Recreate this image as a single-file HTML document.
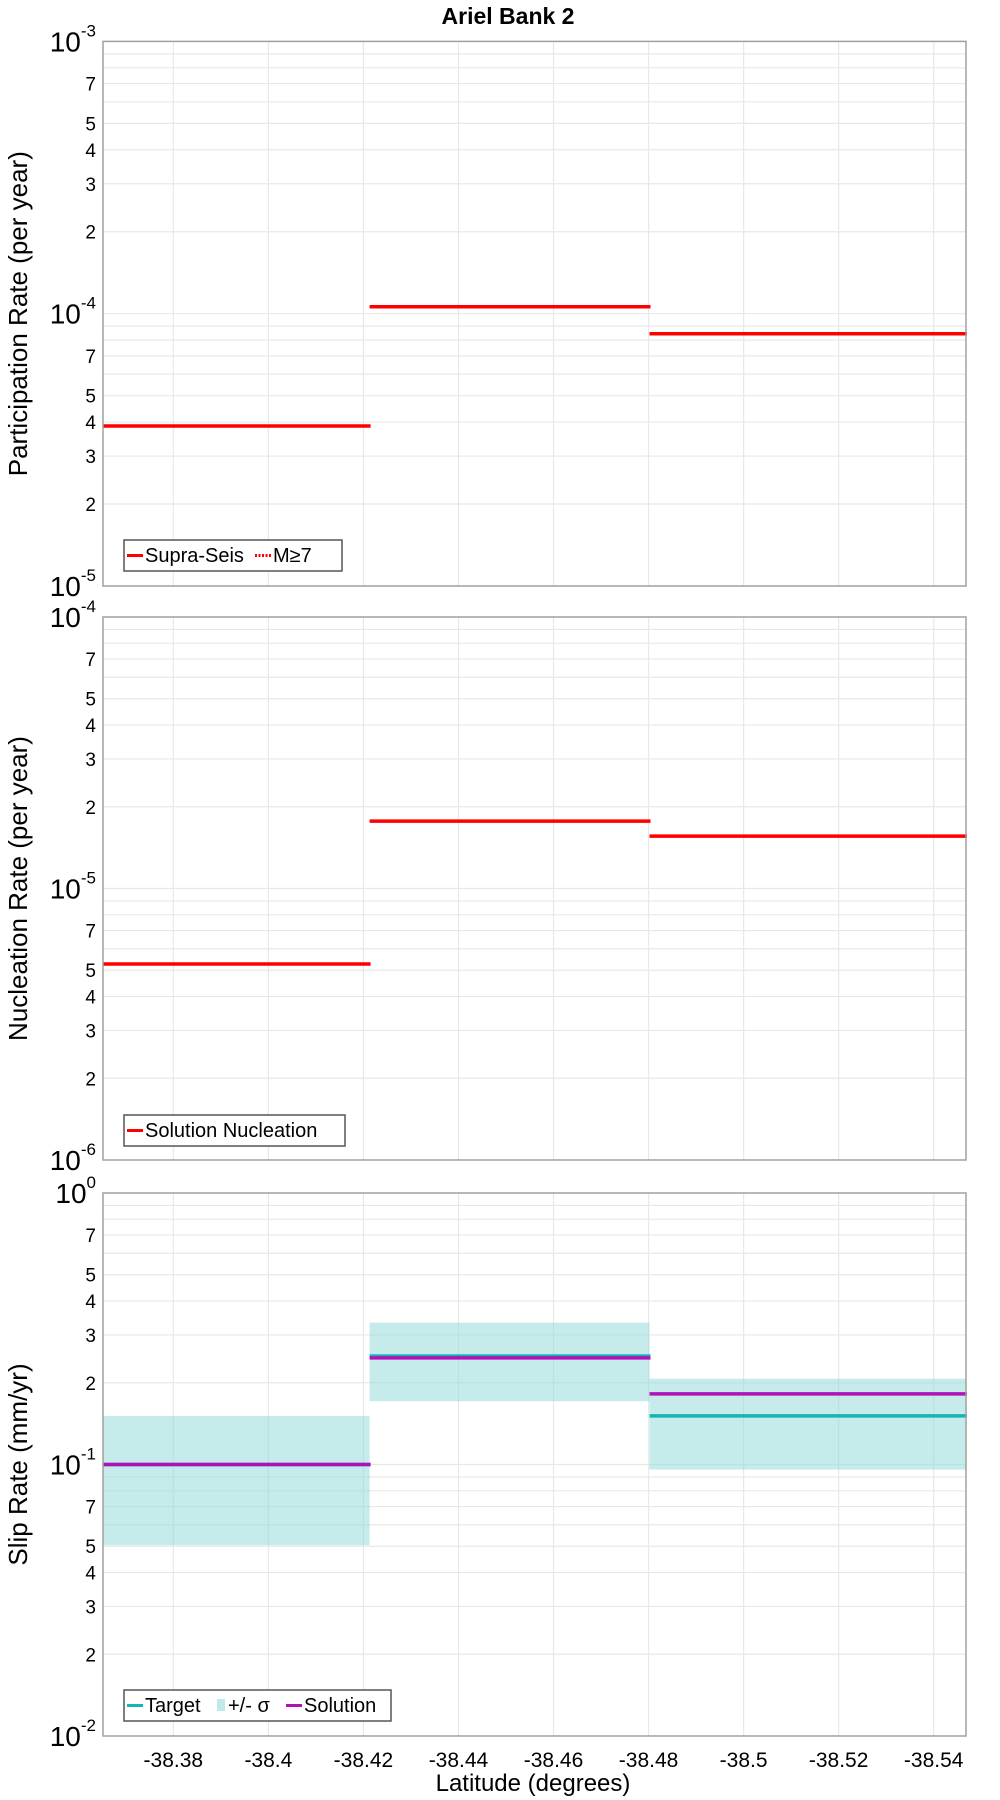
<!DOCTYPE html>
<html><head><meta charset="utf-8"><style>
html,body{margin:0;padding:0;background:#fff;}
svg{display:block;font-family:"Liberation Sans","DejaVu Sans",sans-serif;}
</style></head><body>
<svg id="chart" width="1000" height="1800" viewBox="0 0 1000 1800">
<text x="508" y="24" text-anchor="middle" font-size="23" font-weight="bold">Ariel Bank 2</text>
<g id="panels"></g>
<text x="533" y="1791" text-anchor="middle" font-size="24">Latitude (degrees)</text>
</svg>
<script>
const xTicks = [-38.38, -38.4, -38.42, -38.44, -38.46, -38.48, -38.5, -38.52, -38.54];
const xTickLabels = ["-38.38", "-38.4", "-38.42", "-38.44", "-38.46", "-38.48", "-38.5", "-38.52", "-38.54"];
const segStart = [-38.3652, -38.4213, -38.4802];
const segEnd = [-38.4213, -38.4802, -38.5468];
const participation = [3.87e-5, 1.06e-4, 8.44e-5];
const nucleation = [5.27e-6, 1.77e-5, 1.56e-5];
const slipTarget = [0.1, 0.251, 0.151];
const slipSolution = [0.1, 0.247, 0.182];
const slipLow = [0.0504, 0.171, 0.0958];
const slipHigh = [0.151, 0.333, 0.207];

const NS = "http://www.w3.org/2000/svg";
const L = 103, R = 966;
const xMin = -38.3652, xMax = -38.5468;
function xs(v){ return L + (v - xMin) / (xMax - xMin) * (R - L); }
function mk(tag, attrs, parent){ const e = document.createElementNS(NS, tag); for (const k in attrs) e.setAttribute(k, attrs[k]); parent.appendChild(e); return e; }
const root = document.getElementById("panels");

function panel(top, bottom, expTop, expBot, title, name){
  const g = mk("g", {}, root);
  
  
  const ys = v => top + (expTop - Math.log10(v)) / (expTop - expBot) * (bottom - top);
  for (let e = expBot; e < expTop; e++) {
    for (let m = 1; m <= 9; m++) {
      const v = m * Math.pow(10, e);
      if (e === expBot && m === 1) continue;
      const y = ys(v);
      const ln = mk("line", {x1:L, x2:R, y1:y, y2:y, stroke:"#e8e8e8", "stroke-width":1.2}, g);
      
      
    }
  }
  xTicks.forEach(t => {
    const x = xs(t);
    const ln = mk("line", {x1:x, x2:x, y1:top, y2:bottom, stroke:"#e8e8e8", "stroke-width":1.2}, g);
    
    
  });
  for (let e = expBot; e <= expTop; e++) {
    const y = ys(Math.pow(10, e));
    const t = mk("text", {x:96, y:y+10, "text-anchor":"end", "font-size":28}, g);
    
    
    t.textContent = "10";
    const s = mk("tspan", {"font-size":17, dy:-15}, t);
    s.textContent = String(e);
    if (e < expTop) {
      [2,3,4,5,7].forEach(m => {
        const yy = ys(m * Math.pow(10, e));
        const tl = mk("text", {x:96, y:yy+7, "text-anchor":"end", "font-size":19}, g);
        
        
        tl.textContent = String(m);
      });
    }
  }
  const yt = mk("text", {x:0, y:0, "text-anchor":"middle", "font-size":26, transform:`translate(27,${(top+bottom)/2}) rotate(-90)`}, g);
  
  
  yt.textContent = title;
  return {g, ys, top, bottom};
}
function frame(p){
  const r = mk("rect", {x:L, y:p.top, width:R-L, height:p.bottom-p.top, fill:"none", stroke:"#a0a0a0", "stroke-width":1.5}, p.g);
  
  
}
function seg(p, vals, color, name){
  vals.forEach((v, i) => {
    const y = p.ys(v);
    const ln = mk("line", {x1:xs(segStart[i]), x2:xs(segEnd[i]) + 1, y1:y, y2:y, stroke:color, "stroke-width":3.5}, p.g);
    
    
  });
}
function legend(p, x, y, w, items){
  const lg = mk("g", {}, p.g);
  
  
  const r = mk("rect", {x:x, y:y, width:w, height:31, fill:"#fff", stroke:"#555", "stroke-width":1.5}, lg);
  
  
  let cx = x + 3;
  items.forEach(it => {
    if (it.type === "box") {
      const b = mk("rect", {x:cx, y:y+9, width:8, height:12, fill:it.color}, lg);
      
      
      cx += 11;
    } else {
      const s = mk("line", {x1:cx, x2:cx+16, y1:y+15.5, y2:y+15.5, stroke:it.color, "stroke-width":3, "stroke-dasharray":it.dash||"none"}, lg);
      
      
      cx += 18;
    }
    const t = mk("text", {x:cx, y:y+22, "font-size":20}, lg);
    
    
    t.textContent = it.label;
    cx += it.w;
  });
}

const p1 = panel(41.4, 586, -3, -5, "Participation Rate (per year)", "participation");
seg(p1, participation, "#ff0000", "participation-line");
frame(p1);
legend(p1, 124, 540, 218, [{color:"#ff0000", label:"Supra-Seis", w:110},{color:"#ff0000", dash:"2,1.5", label:"M\u22657", w:60}]);

const p2 = panel(617, 1160, -4, -6, "Nucleation Rate (per year)", "nucleation");
seg(p2, nucleation, "#ff0000", "nucleation-line");
frame(p2);
legend(p2, 124, 1115, 221, [{color:"#ff0000", label:"Solution Nucleation", w:200}]);

const p3 = panel(1193, 1736, 0, -2, "Slip Rate (mm/yr)", "slip");
slipLow.forEach((lo, i) => {
  const yH = p3.ys(slipHigh[i]), yL = p3.ys(lo);
  const r = mk("rect", {x:xs(segStart[i]), y:yH, width:xs(segEnd[i]) - xs(segStart[i]), height:yL - yH, fill:"#8fd9d9", "fill-opacity":0.52}, p3.g);
  
  
});
seg(p3, slipTarget, "#16b4b4", "target-line");
seg(p3, slipSolution, "#b012b8", "solution-line");
frame(p3);
legend(p3, 124, 1690, 267, [{color:"#16b4b4", label:"Target", w:72},{type:"box", color:"#bfeaea", label:"+/- \u03c3", w:58},{color:"#b012b8", label:"Solution", w:80}]);

xTicks.forEach((t, i) => {
  const tx = mk("text", {x:xs(t), y:1767, "text-anchor":"middle", "font-size":21}, document.getElementById("chart"));
  
  
  tx.textContent = xTickLabels[i];
});
</script>
</body></html>
